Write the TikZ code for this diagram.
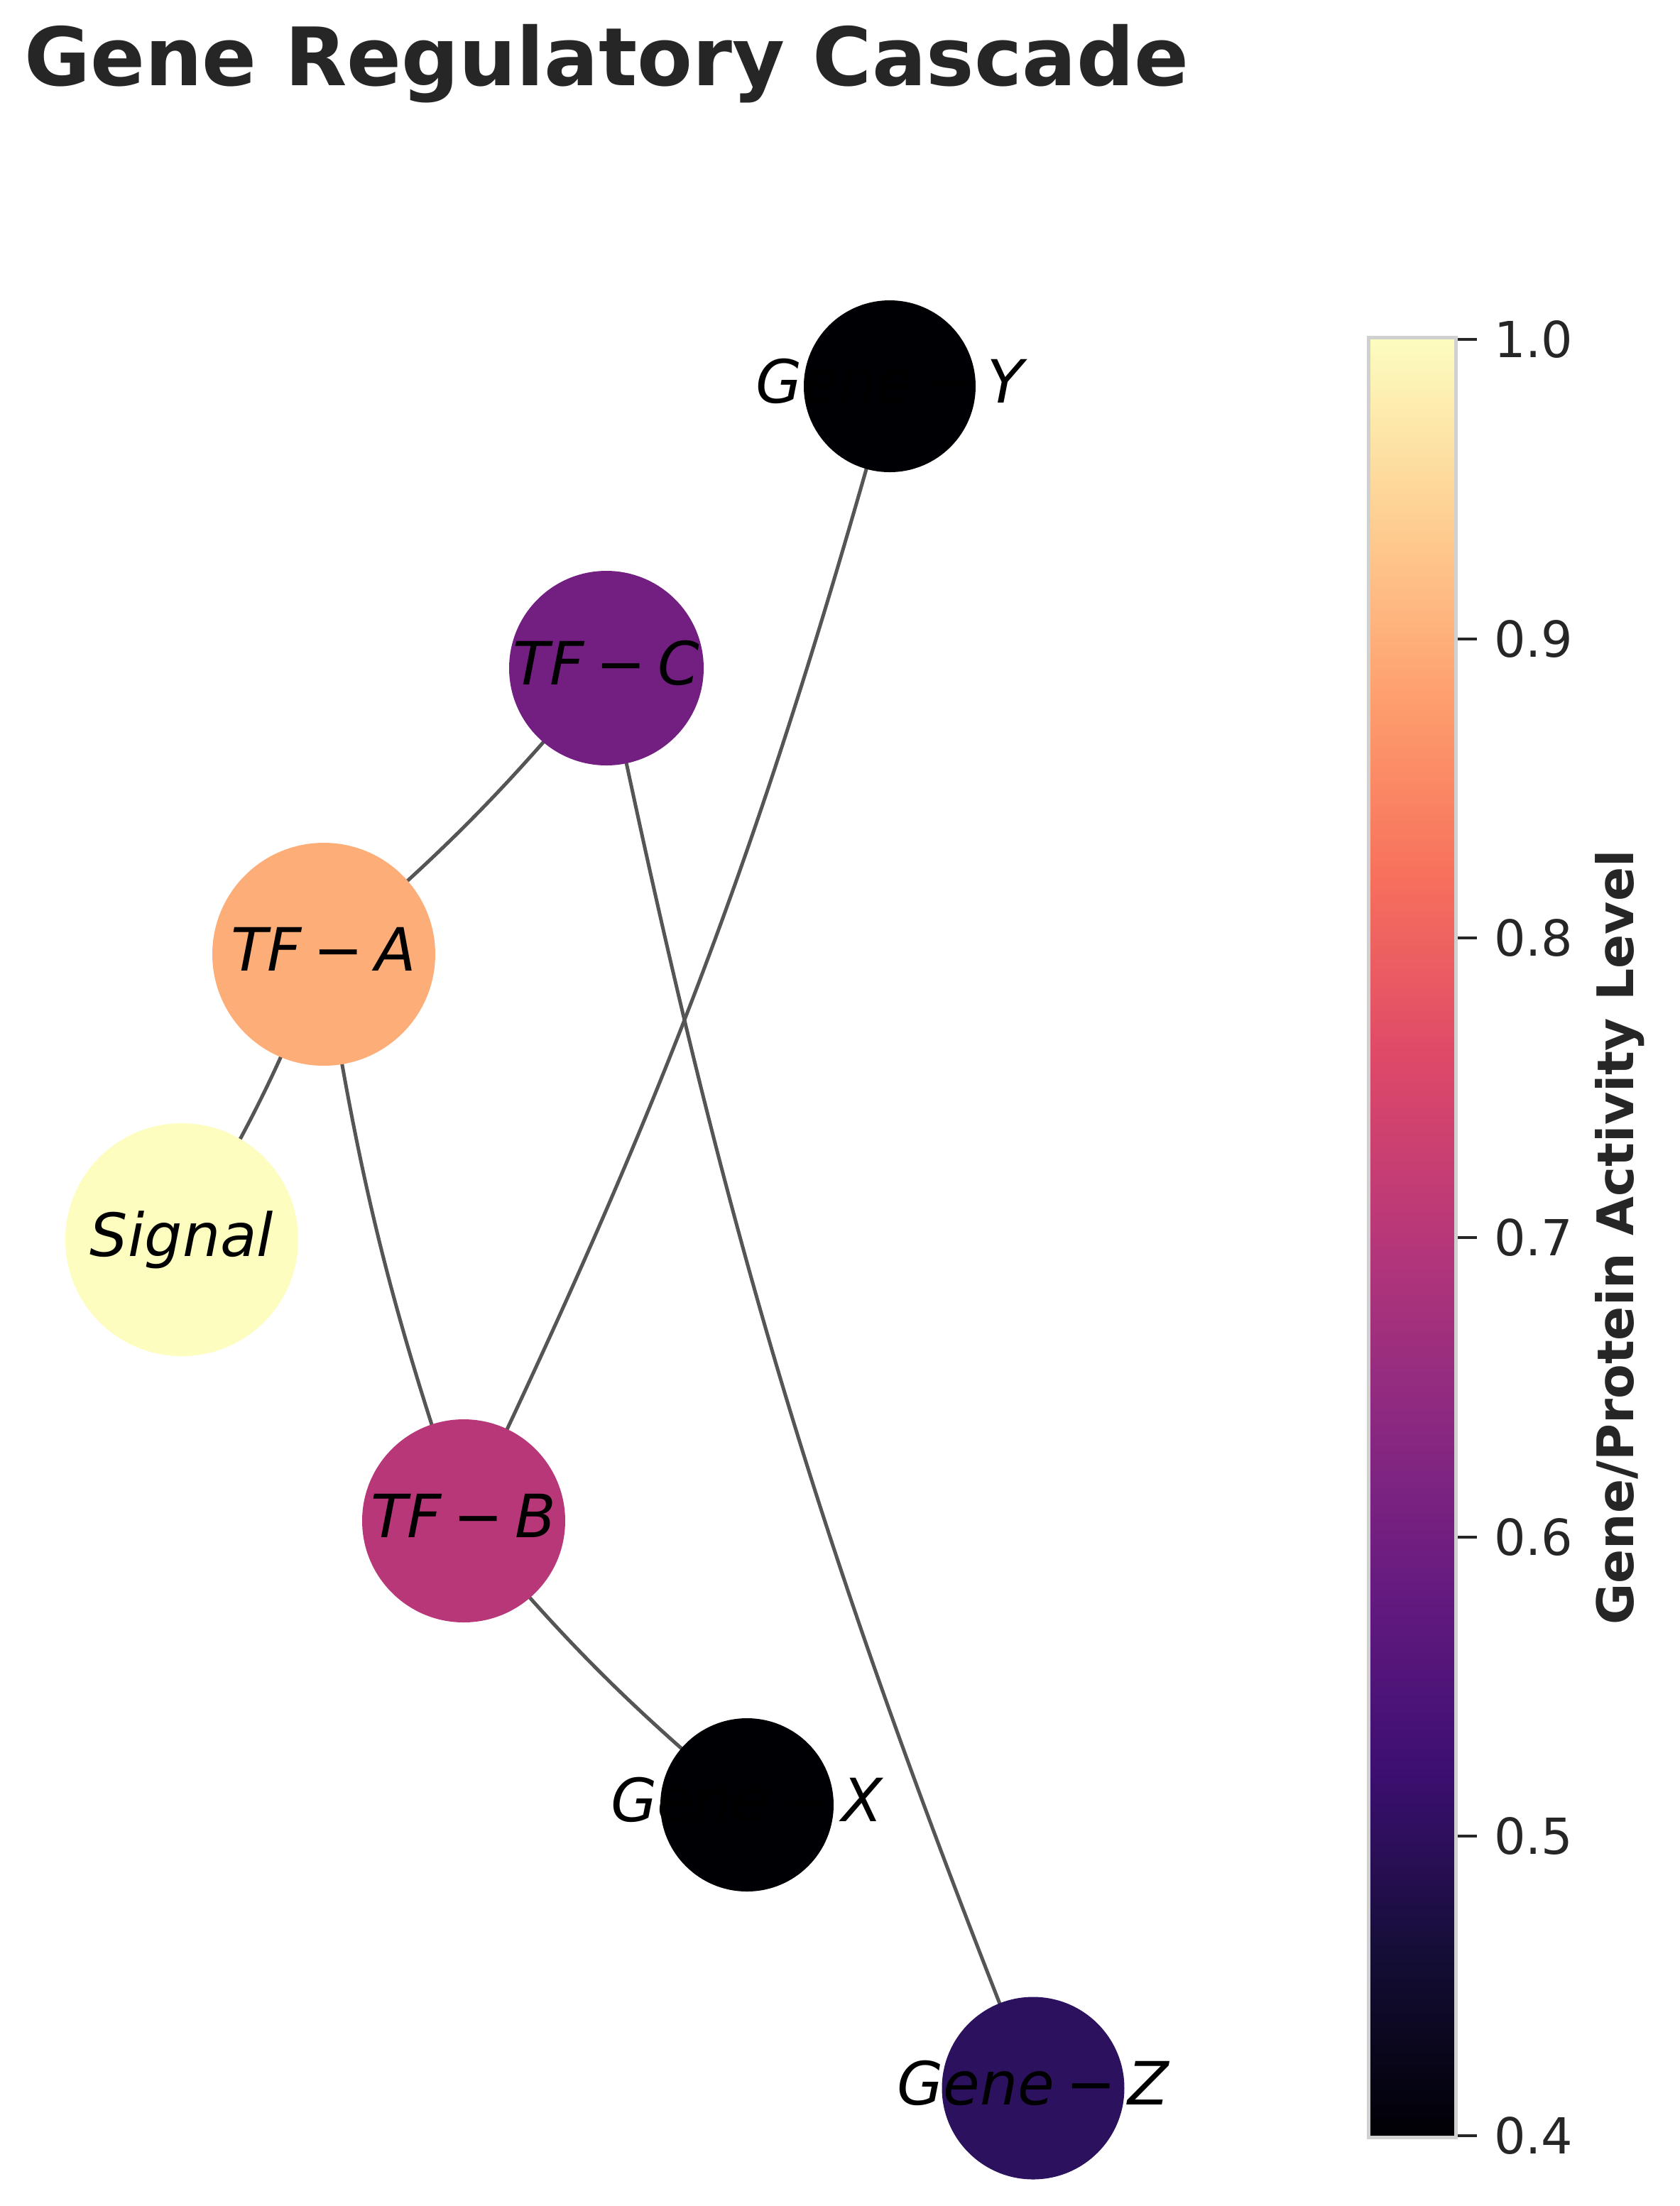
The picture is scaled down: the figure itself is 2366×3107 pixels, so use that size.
\documentclass[tikz,border=0pt]{standalone}
\usepackage{fontspec}
\setmainfont{DejaVu Sans}
\usetikzlibrary{backgrounds}
\definecolor{txt}{HTML}{262626}
\definecolor{edgec}{HTML}{555555}
\definecolor{cbframe}{HTML}{D0D0D0}
\definecolor{cGY}{HTML}{000004}
\definecolor{cGX}{HTML}{000004}
\definecolor{cGZ}{HTML}{2C115F}
\definecolor{cTFC}{HTML}{721F81}
\definecolor{cTFB}{HTML}{B73779}
\definecolor{cTFA}{HTML}{FDAE78}
\definecolor{cSIG}{HTML}{FCFDBF}
\definecolor{m0}{HTML}{000004}
\definecolor{m1}{HTML}{140E36}
\definecolor{m2}{HTML}{3B0F70}
\definecolor{m3}{HTML}{641A80}
\definecolor{m4}{HTML}{8C2981}
\definecolor{m5}{HTML}{B73779}
\definecolor{m6}{HTML}{DE4968}
\definecolor{m7}{HTML}{F7705C}
\definecolor{m8}{HTML}{FE9F6D}
\definecolor{m9}{HTML}{FECF92}
\definecolor{m10}{HTML}{FCFDBF}
\newcommand{\mylbl}[2]{#1\hspace{0.2em}−\hspace{0.2em}#2}
\begin{document}
\begin{tikzpicture}[x=0.1pt,y=0.1pt,
  gnode/.style={circle, inner sep=0pt, draw=none},
  lbl/.style={font=\fontsize{8.4}{10}\selectfont\itshape, text=black, text height=6.3pt, text depth=1.7pt, inner sep=0pt},
  edge/.style={draw=edgec, line width=0.5pt},
  ticklbl/.style={font=\fontsize{7}{8.4}\selectfont, text=txt, anchor=west, inner sep=0pt},
  tickmark/.style={draw=txt, line width=0.4pt}]
\useasboundingbox (0,0) rectangle (2366,-3107);

% title
\node[anchor=base west, inner sep=0pt, text=txt, font=\fontsize{11.35}{13}\selectfont\bfseries] (title) at (32,-120) {Gene Regulatory Cascade};

% nodes
\node[gnode, fill=cGY, minimum size=24.2pt] (gy) at (1253,-544) {};
\node[gnode, fill=cTFC, minimum size=27.4pt] (tfc) at (854,-941) {};
\node[gnode, fill=cTFA, minimum size=31.4pt] (tfa) at (456,-1344) {};
\node[gnode, fill=cSIG, minimum size=32.8pt] (sig) at (256,-1746) {};
\node[gnode, fill=cTFB, minimum size=28.6pt] (tfb) at (653,-2142) {};
\node[gnode, fill=cGX, minimum size=24.4pt] (gx) at (1052,-2542) {};
\node[gnode, fill=cGZ, minimum size=25.7pt] (gz) at (1455,-2941) {};

% labels
\node[lbl] (gyl) at (gy) {\mylbl{Gene}{Y}};
\node[lbl] (tfcl) at (tfc) {\mylbl{TF}{C}};
\node[lbl] (tfal) at (tfa) {\mylbl{TF}{A}};
\node[lbl] (sigl) at (sig) {Signal};
\node[lbl] (tfbl) at (tfb) {\mylbl{TF}{B}};
\node[lbl] (gxl) at (gx) {\mylbl{Gene}{X}};
\node[lbl] (gzl) at (gz) {\mylbl{Gene}{Z}};

% edges (centre to centre, hidden under the filled nodes)
\begin{scope}[on background layer]
\draw[edge] (sig.center) to[bend right=5] (tfa.center);
\draw[edge] (tfa.center) to[bend right=5] (tfc.center);
\draw[edge] (tfa.center) to[bend right=5] (tfb.center);
\draw[edge] (tfc.center) to[bend right=5] (gz.center);
\draw[edge] (tfb.center) to[bend right=5] (gy.center);
\draw[edge] (tfb.center) to[bend right=5] (gx.center);
\end{scope}

% colorbar
\shade[bottom color=m0, top color=m1] (1930,-3008) rectangle (2048,-2754);
\shade[bottom color=m1, top color=m2] (1930,-2755) rectangle (2048,-2501);
\shade[bottom color=m2, top color=m3] (1930,-2502) rectangle (2048,-2248);
\shade[bottom color=m3, top color=m4] (1930,-2249) rectangle (2048,-1995);
\shade[bottom color=m4, top color=m5] (1930,-1996) rectangle (2048,-1742);
\shade[bottom color=m5, top color=m6] (1930,-1743) rectangle (2048,-1489);
\shade[bottom color=m6, top color=m7] (1930,-1490) rectangle (2048,-1236);
\shade[bottom color=m7, top color=m8] (1930,-1237) rectangle (2048,-983);
\shade[bottom color=m8, top color=m9] (1930,-984) rectangle (2048,-730);
\shade[bottom color=m9, top color=m10] (1930,-731) rectangle (2048,-478);
\draw[cbframe, line width=0.5pt] (1927.5,-475.5) rectangle (2050.5,-3010.5);

% ticks
\foreach \v/\yy in {1.0/478, 0.9/899.7, 0.8/1321.3, 0.7/1743, 0.6/2164.7, 0.5/2586.3, 0.4/3008} {
  \draw[tickmark] (2053,-\yy) -- (2080,-\yy);
  \node[ticklbl] at (2102,-\yy) {\v};
}

% colorbar label
\node[rotate=90, anchor=base, inner sep=0pt, text=txt, font=\fontsize{7.1}{8.5}\selectfont\bfseries] (cblabel) at (2300,-1743) {Gene/Protein Activity Level};
\end{tikzpicture}
\end{document}
